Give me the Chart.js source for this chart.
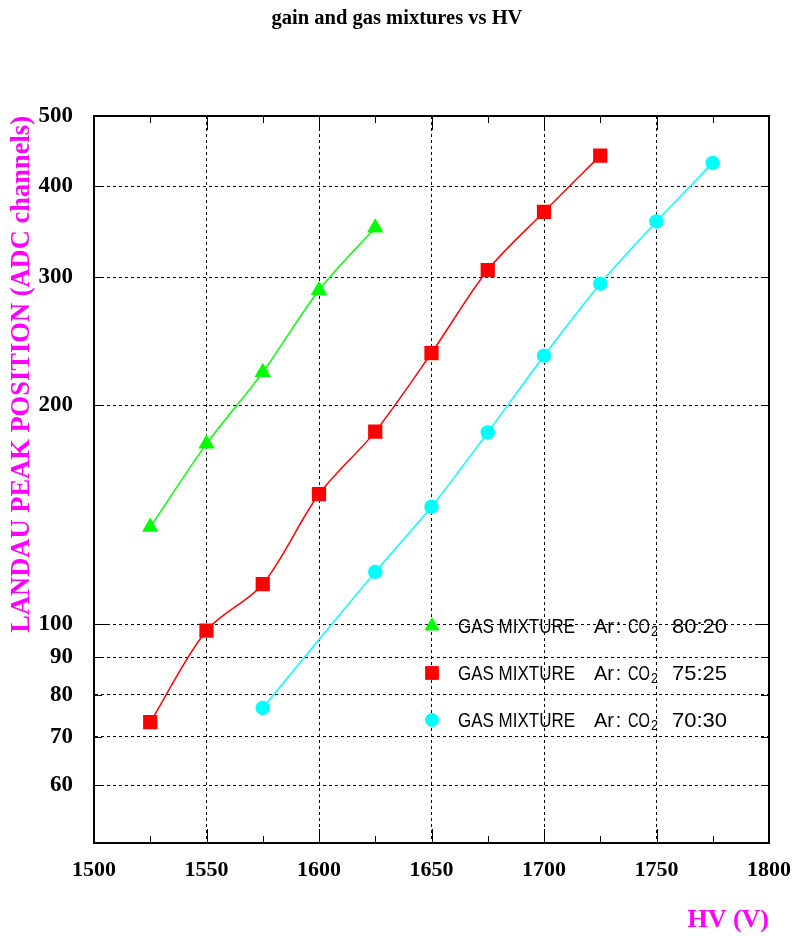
<!DOCTYPE html>
<html>
<head>
<meta charset="utf-8">
<title>gain and gas mixtures vs HV</title>
<script src="https://cdn.jsdelivr.net/npm/chart.js@4.4.1/dist/chart.umd.min.js"></script>
<style>
  html, body { margin: 0; padding: 0; background: #fff; }
  #wrap { width: 794px; height: 936px; }
</style>
</head>
<body>
<div id="wrap"><canvas id="gainChart" width="794" height="936"></canvas></div>
<script>
'use strict';

// ---- data ----
var hv8020 = [1525, 1550, 1575, 1600, 1625];
var peak8020 = [136, 177, 222, 288, 351];

var hv7525 = [1525, 1550, 1575, 1600, 1625, 1650, 1675, 1700, 1725];
var peak7525 = [73.3, 98, 113.5, 151, 184, 236, 307, 369, 441];

var hv7030 = [1575, 1625, 1650, 1675, 1700, 1725, 1750, 1775];
var peak7030 = [76.7, 118, 145, 183.5, 234, 294, 358, 431];

var mixLabels = ['80:20', '75:25', '70:30'];
var yTickValues = [50, 60, 70, 80, 90, 100, 200, 300, 400, 500];
var xTickValues = [1500, 1550, 1600, 1650, 1700, 1750, 1800];

var serif = "'Liberation Serif', 'Times New Roman', serif";
var sans = "'Liberation Sans', Arial, sans-serif";

function toPoints(xs, ys) {
    return xs.map(function(x, i) { return {x: x, y: ys[i]}; });
}

//frame round the plot + small inward ticks (like the original PAW style)
var frameTicks = {
    id: 'frameTicks',
    afterDraw: function(chart) {
        var ctx = chart.ctx;
        var a = chart.chartArea;
        var xs = chart.scales.x, ys = chart.scales.y;
        ctx.save();
        ctx.strokeStyle = '#000';
        ctx.lineWidth = 1;
        ctx.beginPath();
        for (var v = 1500; v <= 1800; v += 25) {
            var px = Math.round(xs.getPixelForValue(v)) + 0.5;
            var len = (v % 50 === 0) ? 14 : 7;
            ctx.moveTo(px, a.bottom); ctx.lineTo(px, a.bottom - len);
            ctx.moveTo(px, a.top); ctx.lineTo(px, a.top + len);
        }
        yTickValues.forEach(function(val) {
            var py = Math.round(ys.getPixelForValue(val)) + 0.5;
            var len = (val === 100) ? 14 : 8;
            ctx.moveTo(a.left, py); ctx.lineTo(a.left + len, py);
            ctx.moveTo(a.right, py); ctx.lineTo(a.right - len, py);
        });
        ctx.stroke();
        ctx.lineWidth = 2;
        ctx.strokeRect(a.left, a.top, a.right - a.left, a.bottom - a.top);
        ctx.restore();
    }
};

//the original legend font is tall and narrow: squeeze each piece to its width
function fitText(ctx, str, x, y, width) {
    var sq = width / ctx.measureText(str).width;
    ctx.save();
    ctx.translate(x, y);
    ctx.scale(sq, 1);
    ctx.fillText(str, 0, 0);
    ctx.restore();
}

//legend sits inside the plot, drawn from the dataset styles
var insideLegend = {
    id: 'insideLegend',
    afterDatasetsDraw: function(chart) {
        var ctx = chart.ctx;
        var markX = 432, rowY = [627, 674, 721];
        ctx.save();
        chart.data.datasets.forEach(function(ds, i) {
            var y = rowY[i];
            ctx.fillStyle = ds.pointBackgroundColor;
            ctx.strokeStyle = ds.pointBackgroundColor;
            ctx.lineWidth = 1;
            Chart.helpers.drawPoint(ctx, {pointStyle: ds.pointStyle, radius: ds.pointRadius, borderWidth: 1}, markX, y - 1);

            ctx.fillStyle = '#000';
            ctx.textBaseline = 'middle';
            ctx.textAlign = 'left';
            ctx.font = '21px ' + sans;
            fitText(ctx, 'GAS MIXTURE', 458, y, 117);
            fitText(ctx, 'Ar', 594, y, 20);
            fitText(ctx, ':', 616, y, 5);
            fitText(ctx, 'CO', 628, y, 22);
            fitText(ctx, mixLabels[i], 672, y, 55);
            ctx.font = '14px ' + sans;
            fitText(ctx, '2', 651, y + 5, 7);
        });
        ctx.restore();
    }
};

var ctx = document.getElementById('gainChart').getContext('2d');

window.gainChart = new Chart(ctx, {
    type: 'line',
    data: {
        datasets: [{
            label: 'GAS MIXTURE Ar: CO2 ' + mixLabels[0],
            data: toPoints(hv8020, peak8020),
            borderColor: '#00ff00',
            backgroundColor: '#00ff00',
            pointBackgroundColor: '#00ff00',
            pointBorderColor: '#00ff00',
            pointStyle: 'triangle',
            pointRadius: 8,
            borderWidth: 1.5,
            tension: 0.3
        }, {
            label: 'GAS MIXTURE Ar: CO2 ' + mixLabels[1],
            data: toPoints(hv7525, peak7525),
            borderColor: '#ff0000',
            backgroundColor: '#ff0000',
            pointBackgroundColor: '#ff0000',
            pointBorderColor: '#ff0000',
            pointStyle: 'rect',
            pointRadius: 9,
            borderWidth: 1.5,
            tension: 0.3
        }, {
            label: 'GAS MIXTURE Ar: CO2 ' + mixLabels[2],
            data: toPoints(hv7030, peak7030),
            borderColor: '#00ffff',
            backgroundColor: '#00ffff',
            pointBackgroundColor: '#00ffff',
            pointBorderColor: '#00ffff',
            pointStyle: 'circle',
            pointRadius: 6.5,
            borderWidth: 1.5,
            tension: 0.3
        }]
    },
    options: {
        responsive: false,
        animation: false,
        layout: { padding: 0 },
        plugins: {
            legend: { display: false },
            tooltip: { enabled: false },
            title: {
                display: true,
                text: 'gain and gas mixtures vs HV',
                color: '#000',
                font: { family: serif, size: 20.5, weight: 'bold', lineHeight: 1.2 },
                padding: { top: 6, bottom: 85.4 }
            }
        },
        scales: {
            x: {
                type: 'linear',
                min: 1500,
                max: 1800,
                afterBuildTicks: function(scale) {
                    scale.ticks = xTickValues.map(function(v) { return {value: v}; });
                },
                afterFit: function(scale) {
                    scale.height = 93;
                    scale.paddingLeft = 0;
                    scale.paddingRight = 25;
                },
                grid: { color: '#000', lineWidth: 1, drawTicks: false },
                border: { display: true, color: '#000', width: 2, dash: [3, 3] },
                ticks: {
                    color: '#000',
                    padding: 14,
                    maxRotation: 0,
                    font: { family: serif, size: 22, weight: 'bold' },
                    callback: function(value) { return String(value); }
                },
                title: {
                    display: true,
                    text: 'HV (V)',
                    align: 'end',
                    color: '#ff00ff',
                    font: { family: serif, size: 26, weight: 'bold', lineHeight: 1.2 },
                    padding: { top: 0, bottom: 0 }
                }
            },
            y: {
                type: 'logarithmic',
                min: 50,
                max: 500,
                afterBuildTicks: function(scale) {
                    scale.ticks = yTickValues.map(function(v) { return {value: v}; });
                },
                afterFit: function(scale) {
                    scale.width = 94;
                    scale.paddingTop = 0;
                    scale.paddingBottom = 0;
                },
                grid: { color: '#000', lineWidth: 1, drawTicks: false },
                border: { display: true, color: '#000', width: 2, dash: [3, 3] },
                ticks: {
                    color: '#000',
                    padding: 21,
                    font: { family: serif, size: 23, weight: 'bold' },
                    callback: function(value) {
                        return value === 50 ? '' : String(value);
                    }
                },
                title: {
                    display: true,
                    text: 'LANDAU PEAK POSITION (ADC channels)',
                    align: 'end',
                    color: '#ff00ff',
                    font: { family: serif, size: 26.5, weight: 'bold', lineHeight: 1.2 },
                    padding: { top: 6, bottom: 0 }
                }
            }
        }
    },
    plugins: [frameTicks, insideLegend]
});
</script>
</body>
</html>
